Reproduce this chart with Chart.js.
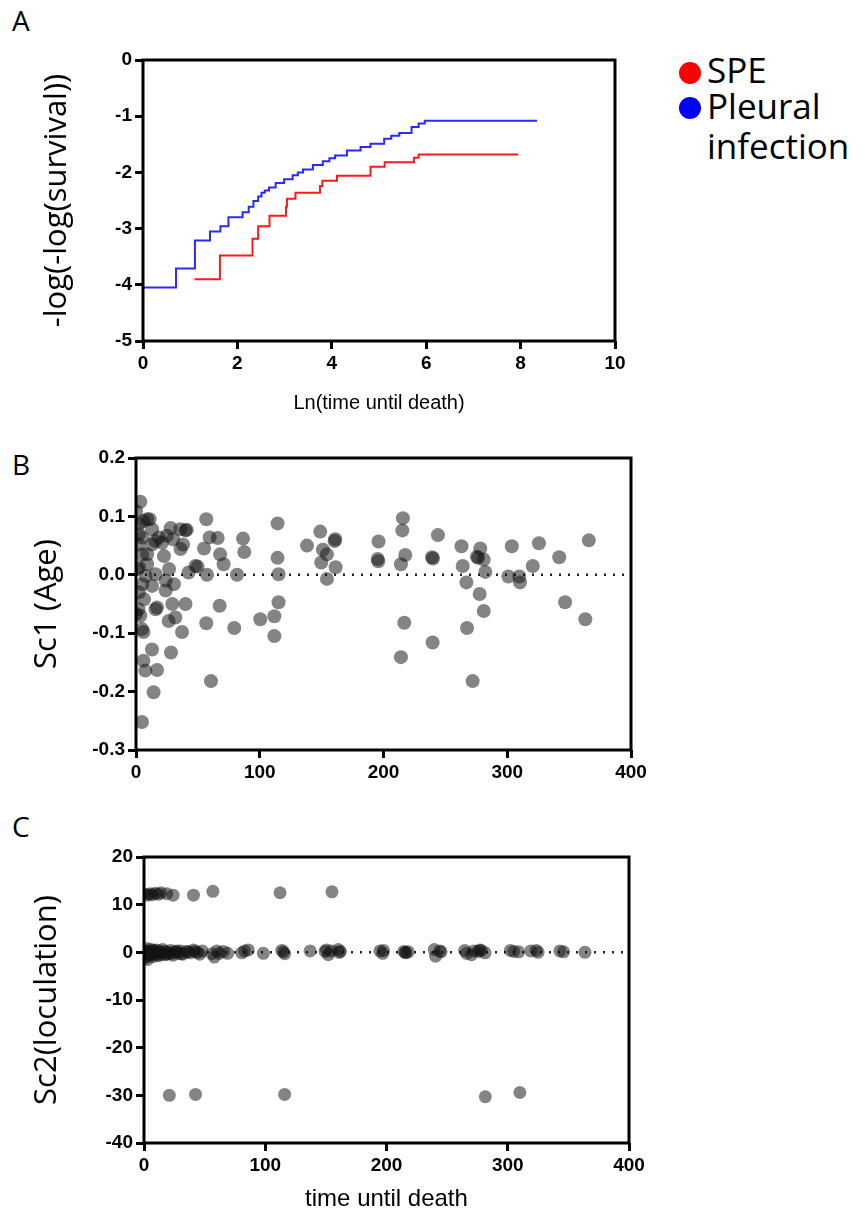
<!DOCTYPE html>
<html>
<head>
<meta charset="utf-8">
<script src="https://cdn.jsdelivr.net/npm/chart.js@4/dist/chart.umd.min.js"></script>
<style>
  body { margin: 0; background: #fff; width: 865px; height: 1218px; overflow: hidden; position: relative; }
  canvas { position: absolute; left: 0; }
  .lbl { position: absolute; font-family: "Open Sans", sans-serif; color: #000; line-height: 1; }
  .dot { position: absolute; width: 22px; height: 22px; border-radius: 50%; }
</style>
</head>
<body>
<div class="lbl" style="left:12px;top:6px;font-size:28px;">A</div>
<div class="lbl" style="left:12px;top:450px;font-size:28px;">B</div>
<div class="lbl" style="left:12px;top:812px;font-size:28px;">C</div>

<div class="dot" style="left:679px;top:62px;background:#ff0000;"></div>
<div class="dot" style="left:679px;top:97px;background:#0000ff;"></div>
<div class="lbl" style="left:707px;top:52px;font-size:35px;">SPE</div>
<div class="lbl" style="left:707px;top:86px;font-size:35px;line-height:40px;">Pleural<br>infection</div>

<canvas id="chartA" width="865" height="430" style="top:0px"></canvas>
<canvas id="chartB" width="865" height="380" style="top:430px"></canvas>
<canvas id="chartC" width="865" height="408" style="top:810px"></canvas>

<script>
// panel A: -log(-log(survival)) step curves
const speX = [1.09, 1.63, 2.32, 2.44, 2.68, 3.03, 3.05, 3.23, 3.75, 3.80, 4.11, 4.82, 5.12, 5.74, 5.84, 7.95];
const speY = [-3.90, -3.48, -3.18, -2.96, -2.77, -2.61, -2.47, -2.36, -2.24, -2.15, -2.06, -1.90, -1.82, -1.74, -1.68, -1.68];
const pleuralX = [0, 0.70, 1.10, 1.42, 1.64, 1.81, 2.11, 2.24, 2.34, 2.44, 2.51, 2.58, 2.67, 2.81, 2.99, 3.17, 3.28, 3.39, 3.60, 3.81, 3.95, 4.07, 4.32, 4.61, 4.82, 5.11, 5.26, 5.43, 5.69, 5.84, 5.97, 8.35];
const pleuralY = [-4.05, -3.71, -3.21, -3.05, -2.96, -2.80, -2.71, -2.61, -2.51, -2.43, -2.36, -2.32, -2.27, -2.19, -2.12, -2.05, -2.00, -1.95, -1.87, -1.80, -1.75, -1.70, -1.61, -1.55, -1.49, -1.40, -1.35, -1.30, -1.19, -1.13, -1.08, -1.08];
const aXTicks = [0, 2, 4, 6, 8, 10];
const aYTicks = [-5, -4, -3, -2, -1, 0];

// panel B: Sc1 (Age) vs time until death
const sc1Time = [0, 3.5, 2.4, 6, 9, 11, 13, 2.4, 5, 18.6, 25, 13, 2.4, 21, 15.6, 30, 28, 40, 35.8, 41, 38, 36, 5, 22.6, 9, 2.4, 26.7, 7.8, 15.8, 1, 5, 13, 24, 30.7, 24, 2.4, 6.5, 15.8, 17, 29.3, 40, 0, 2, 3.5, 4.8, 6, 26.4, 31.8, 37.2, 12.9, 28.3, 6, 7.5, 17, 14.2, 4.8, 9, 48, 42.5, 49.8,
  56.8, 59.5, 66, 55, 68, 70.8, 57.4, 67.6, 56.8, 60.6, 81.6, 86.5, 87.5, 79.4, 100.4, 111.8, 111.8, 115.2, 115.2, 114.4, 114.4, 138.2, 148.9, 151, 154.3, 149.7, 160.5, 161, 161.3, 154.3, 196, 195.3, 195.8, 215.7, 215.2, 217.6, 214.1, 216.8, 214.1, 244, 239.2, 240, 239.7, 263, 264, 267, 267.5, 272, 278.2, 275.5, 276.5, 281, 282.3, 277.7, 281, 303.7, 300.9, 309.7, 310.3, 325.6, 320.6, 342, 346.7, 365.9, 363.1];
const sc1Value = [0.109, 0.125, 0.087, 0.092, 0.095, 0.095, 0.078, 0.070, 0.064, 0.064, 0.067, 0.052, 0.052, 0.055, 0.058, 0.061, 0.080, 0.076, 0.078, 0.077, 0.052, 0.044, 0.035, 0.032, 0.018, 0.013, 0.010, -0.002, 0.001, 0.010, -0.016, -0.019, -0.010, -0.016, -0.027, -0.030, -0.042, -0.059, -0.056, -0.050, -0.050, -0.067, -0.059, -0.070, -0.093, -0.098, -0.079, -0.073, -0.098, -0.128, -0.133, -0.147, -0.164, -0.163, -0.201, -0.252, 0.035, 0.015, 0.004, 0.014,
  0.095, 0.064, 0.063, 0.045, 0.035, 0.018, 0.000, -0.053, -0.083, -0.182, 0.000, 0.062, 0.039, -0.091, -0.076, -0.071, -0.105, -0.047, 0.001, 0.029, 0.088, 0.050, 0.074, 0.043, 0.035, 0.021, 0.058, 0.061, 0.013, -0.007, 0.057, 0.027, 0.023, 0.097, 0.076, 0.034, 0.018, -0.082, -0.141, 0.068, 0.030, 0.028, -0.116, 0.049, 0.015, -0.013, -0.091, -0.182, 0.045, 0.031, 0.029, 0.026, 0.005, -0.033, -0.062, 0.049, -0.003, -0.003, -0.013, 0.054, 0.015, 0.030, -0.047, 0.059, -0.076];
const bXTicks = [0, 100, 200, 300, 400];
const bYTicks = [-0.3, -0.2, -0.1, 0.0, 0.1, 0.2];

// panel C: Sc2 (loculation) vs time until death
const sc2Time = [1, 3, 5, 7, 9.5, 12, 14, 18.8, 24, 40.8, 56.8, 112.2, 155,
  20.9, 42.5, 116, 281.5, 310,
  0, 0.5, 1.5, 2.5, 3, 4, 5, 6, 7, 8, 9, 10, 11, 12.5, 14, 15.5, 17, 18.5, 20, 22, 24, 26, 28, 30, 32, 35, 38, 40.8, 42, 44, 46, 48,
  1, 2, 4, 6, 8, 10, 13, 16, 19, 23, 27, 31, 36,
  56, 58, 60, 62, 65.5, 69, 80.6, 83, 86, 98.4, 113.6, 115, 116, 137, 149.3, 150.5, 152, 154.5, 160.2, 161, 162, 194.6, 196.9, 197.5, 214.3, 215.5, 216, 218, 239.4, 240.5, 244, 245, 264.5, 266, 270, 272, 275.7, 277, 278, 281.3, 302.2, 305, 309, 319, 323.5, 325, 343, 346, 363.7];
const sc2Value = [12.2, 12.0, 12.3, 12.1, 12.4, 12.2, 12.5, 12.3, 12.0, 12.0, 12.8, 12.5, 12.7,
  -30.0, -29.8, -29.8, -30.3, -29.4,
  -1.2, 0.4, -0.6, 0.8, -1.5, 0.2, -0.4, 0.6, -0.9, 0.1, -0.3, 0.5, -0.7, 0.3, -0.2, 0.6, -0.5, 0.2, -0.3, 0.4, -0.6, 0.1, -0.2, 0.3, -0.4, 0.2, -0.1, 0.5, 0.2, 0.0, -0.4, 0.3,
  0.2, -0.9, -0.2, -0.5, 0.4, -0.1, -0.6, 0.0, -0.4, -0.2, 0.3, -0.3, 0.1,
  -0.3, -1.0, 0.3, -0.2, 0.2, -0.2, -0.1, 0.3, 0.5, -0.2, 0.4, 0.1, -0.3, 0.3, 0.2, 0.5, -0.5, 0.3, 0.6, 0.0, 0.2, 0.3, -0.2, 0.4, 0.2, 0.0, -0.1, 0.1, 0.6, -0.8, 0.3, 0.1, 0.4, -0.2, -0.5, 0.3, 0.2, 0.5, 0.4, -0.1, 0.4, 0.2, 0.1, 0.3, 0.4, 0.0, 0.3, 0.1, 0.0];
const cXTicks = [0, 100, 200, 300, 400];
const cYTicks = [-40, -30, -20, -10, 0, 10, 20];

const toPoints = (xs, ys) => xs.map((x, i) => ({ x: x, y: ys[i] }));

const tickFont = { family: '"Liberation Sans", Arial, sans-serif', size: 19, weight: 'bold' };
const yTitleFont = { family: '"Open Sans", sans-serif', size: 31 };
const dotColor = 'rgba(20,20,20,0.52)';

// draws the full frame around the plot area
const framePlugin = {
  id: 'frame',
  afterDraw: (chart) => {
    const a = chart.chartArea;
    const ctx = chart.ctx;
    ctx.save();
    ctx.strokeStyle = '#000';
    ctx.lineWidth = 3;
    ctx.strokeRect(a.left, a.top, a.right - a.left, a.bottom - a.top);
    ctx.restore();
  }
};

const makeAxis = (min, max, ticks, fmt, size) => ({
  type: 'linear',
  min: min,
  max: max,
  afterBuildTicks: (axis) => { axis.ticks = ticks.map((v) => ({ value: v })); },
  afterFit: (axis) => {
    if (axis.isHorizontal()) { axis.height = size; } else { axis.width = size; }
  },
  border: { display: false },
  grid: { drawOnChartArea: false, drawTicks: true, tickLength: 8, tickWidth: 3, color: '#000' },
  ticks: { color: '#000', font: tickFont, padding: 3, maxRotation: 0, autoSkip: false, callback: fmt }
});

const baseOptions = (padding, xAxis, yAxis) => ({
  responsive: false,
  animation: false,
  devicePixelRatio: 1,
  layout: { padding: padding },
  plugins: { legend: { display: false }, tooltip: { enabled: false } },
  scales: { x: xAxis, y: yAxis }
});

// ---- A
const aX = makeAxis(0, 10, aXTicks, (v) => v, 89);
aX.title = { display: true, text: 'Ln(time until death)', color: '#000', font: { family: '"Liberation Sans", Arial, sans-serif', size: 20 }, padding: { top: 0, bottom: 15 } };
const aY = makeAxis(-5, 0, aYTicks, (v) => v, 143);
aY.title = { display: true, text: '-log(-log(survival))', color: '#000', font: yTitleFont, padding: { top: 39, bottom: 0 } };

new Chart(document.getElementById('chartA'), {
  type: 'line',
  data: {
    datasets: [
      { data: toPoints(pleuralX, pleuralY), borderColor: '#2a2aff', borderWidth: 2, stepped: 'before', pointRadius: 0, fill: false },
      { data: toPoints(speX, speY), borderColor: '#ff1a1a', borderWidth: 2, stepped: 'before', pointRadius: 0, fill: false }
    ]
  },
  options: baseOptions({ left: 0, right: 250, top: 60, bottom: 0 }, aX, aY),
  plugins: [framePlugin]
});

// ---- B
const bX = makeAxis(0, 400, bXTicks, (v) => v, 60);
const bY = makeAxis(-0.3, 0.2, bYTicks, (v) => v.toFixed(1), 136);
bY.title = { display: true, text: 'Sc1 (Age)', color: '#000', font: yTitleFont, padding: { top: 29, bottom: 0 } };

new Chart(document.getElementById('chartB'), {
  type: 'scatter',
  data: {
    datasets: [
      { type: 'line', data: [{ x: 0, y: 0 }, { x: 396, y: 0 }], borderColor: '#222', borderWidth: 2.5, borderDash: [2, 7], pointRadius: 0, order: 2 },
      { data: toPoints(sc1Time, sc1Value), backgroundColor: dotColor, borderWidth: 0, pointRadius: 7, order: 1 }
    ]
  },
  options: baseOptions({ left: 0, right: 234, top: 28, bottom: 0 }, bX, bY),
  plugins: [framePlugin]
});

// ---- C
const cX = makeAxis(0, 400, cXTicks, (v) => v, 75);
cX.title = { display: true, text: 'time until death', color: '#000', font: { family: '"Liberation Sans", Arial, sans-serif', size: 24 }, padding: { top: 0, bottom: 4 } };
const cY = makeAxis(-40, 20, cYTicks, (v) => v, 144);
cY.title = { display: true, text: 'Sc2(loculation)', color: '#000', font: yTitleFont, padding: { top: 29, bottom: 0 } };

new Chart(document.getElementById('chartC'), {
  type: 'scatter',
  data: {
    datasets: [
      { type: 'line', data: [{ x: 0, y: 0 }, { x: 396, y: 0 }], borderColor: '#222', borderWidth: 2.5, borderDash: [2, 7], pointRadius: 0, order: 2 },
      { data: toPoints(sc2Time, sc2Value), backgroundColor: dotColor, borderWidth: 0, pointRadius: 6.5, order: 1 }
    ]
  },
  options: baseOptions({ left: 0, right: 236, top: 47, bottom: 0 }, cX, cY),
  plugins: [framePlugin]
});
</script>
</body>
</html>
